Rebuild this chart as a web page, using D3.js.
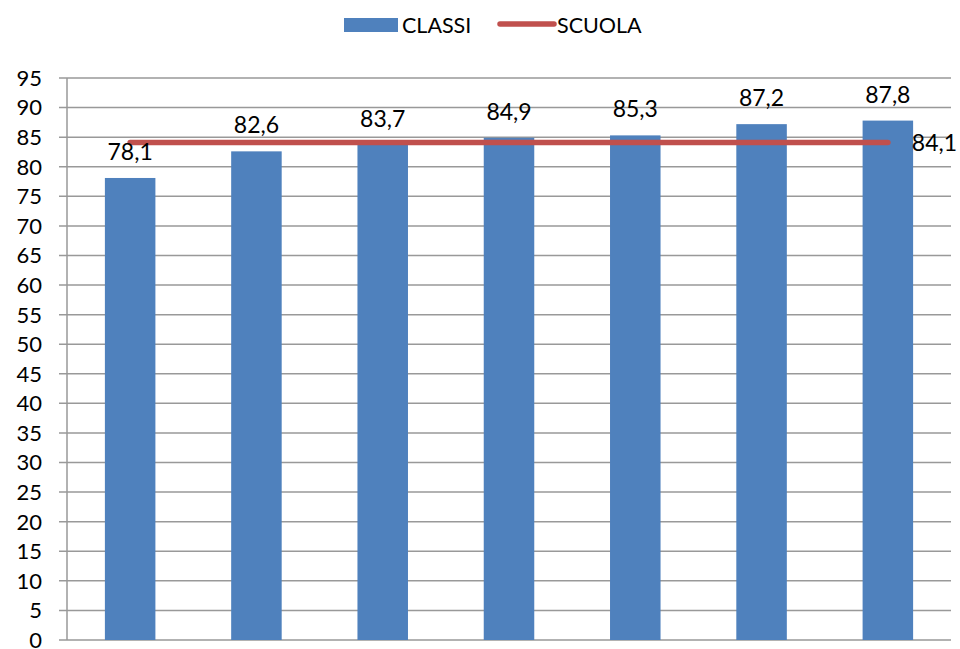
<!DOCTYPE html>
<html><head><meta charset="utf-8">
<script src="https://cdn.jsdelivr.net/npm/d3@7"></script>
<style>body{margin:0;background:#fff}svg{display:block}text{font-family:Lato,"Open Sans",sans-serif;fill:#000}</style>
</head><body>
<svg id="c" width="960" height="649"></svg>
<script>
const categories = ["C1","C2","C3","C4","C5","C6","C7"];
const classi = [78.1, 82.6, 83.7, 84.9, 85.3, 87.2, 87.8];
const scuola = [84.1, 84.1, 84.1, 84.1, 84.1, 84.1, 84.1];
const yTicks = d3.range(0, 96, 5);
const seriesNames = ["CLASSI", "SCUOLA"];
const fmt = v => v.toFixed(1).replace(".", ",");

const svg = d3.select("#c");
const L = 67, R = 951, T = 78, B = 640;
const x = d3.scaleBand().domain(categories).range([L, R]).paddingInner(0.6).paddingOuter(0.3);
const y = d3.scaleLinear().domain([0, 95]).range([B, T]);
const cx = d => x(d) + x.bandwidth() / 2;

// gridlines
svg.append("g").selectAll("line").data(yTicks).join("line")
  .attr("x1", L - 8).attr("x2", R).attr("y1", d => y(d)).attr("y2", d => y(d))
  .attr("stroke", "#999").attr("stroke-width", 1.5);
// y axis line
svg.append("line").attr("x1", L).attr("x2", L).attr("y1", T).attr("y2", B)
  .attr("stroke", "#999").attr("stroke-width", 1.5);
// y labels
svg.append("g").selectAll("text").data(yTicks).join("text")
  .attr("x", 42).attr("y", d => y(d)).attr("dy", "0.36em")
  .attr("text-anchor", "end").attr("font-size", 22).text(d => d);

// bars
svg.append("g").selectAll("rect").data(classi).join("rect")
  .attr("x", (d, i) => x(categories[i])).attr("width", x.bandwidth())
  .attr("y", d => y(d)).attr("height", d => B - y(d)).attr("fill", "#4F81BD");

// line
const line = d3.line().x((d, i) => cx(categories[i])).y(d => y(d));
svg.append("path").datum(scuola).attr("d", line).attr("fill", "none")
  .attr("stroke", "#C0504D").attr("stroke-width", 5.5).attr("stroke-linecap", "round");

// bar labels
svg.append("g").selectAll("text").data(classi).join("text")
  .attr("x", (d, i) => cx(categories[i])).attr("y", d => y(d) - 18)
  .attr("text-anchor", "middle").attr("font-size", 23).text(d => fmt(d));
// line end label
svg.append("text").attr("x", cx(categories[6]) + 24).attr("y", y(scuola[6])).attr("dy", "0.36em")
  .attr("font-size", 23).text(fmt(scuola[6]));

// legend
const lg = svg.append("g");
lg.append("rect").attr("x", 344).attr("y", 18).attr("width", 54).attr("height", 14).attr("fill", "#4F81BD");
lg.append("text").attr("x", 402).attr("y", 25).attr("dy", "0.36em").attr("font-size", 21.5).text(seriesNames[0]);
lg.append("line").attr("x1", 500).attr("x2", 554).attr("y1", 24).attr("y2", 24)
  .attr("stroke", "#C0504D").attr("stroke-width", 5.5).attr("stroke-linecap", "round");
lg.append("text").attr("x", 557).attr("y", 25).attr("dy", "0.36em").attr("font-size", 21.5).text(seriesNames[1]);
</script>
</body></html>
